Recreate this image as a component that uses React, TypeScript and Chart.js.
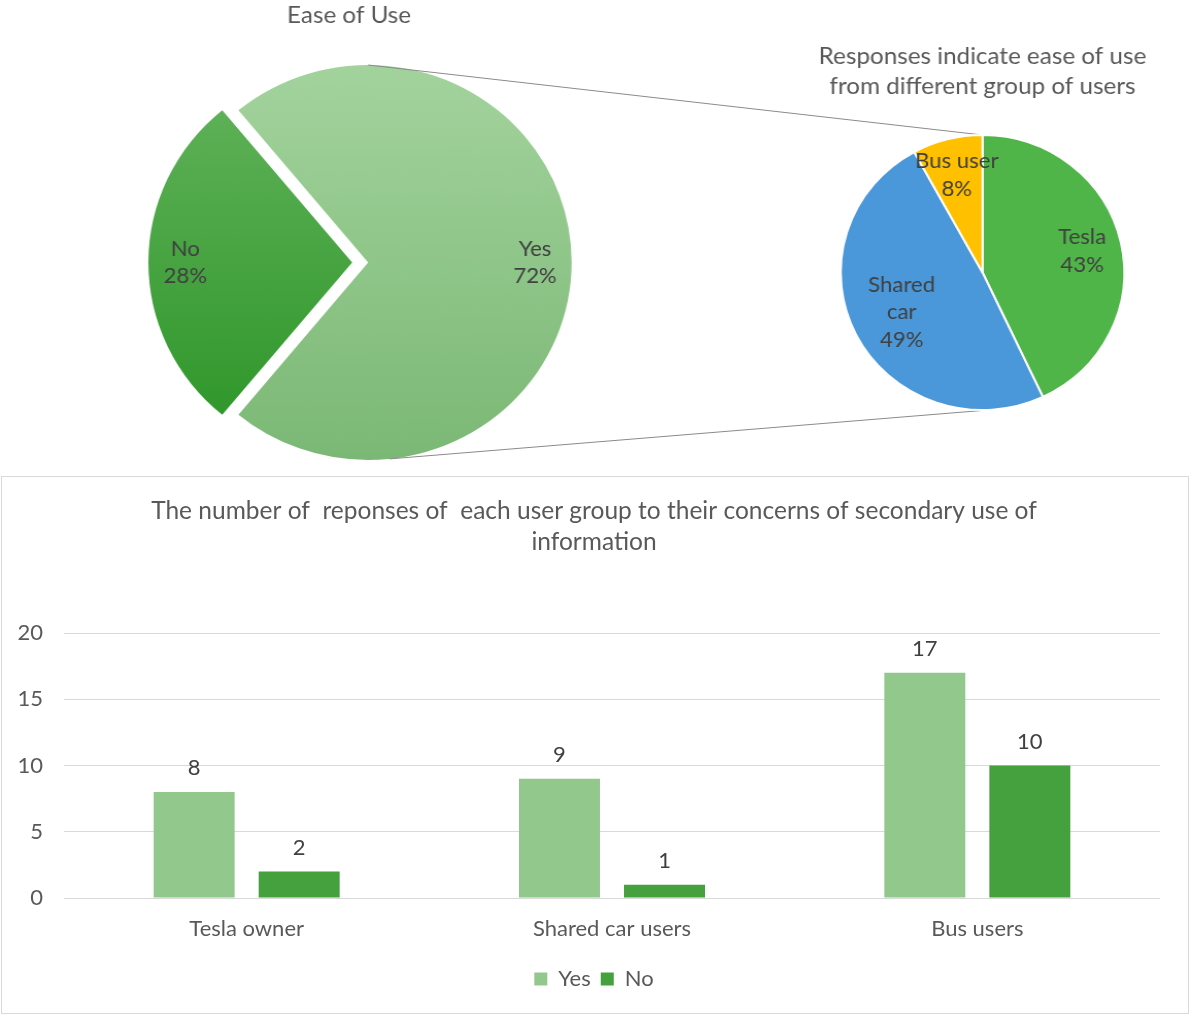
import React, { useEffect, useRef } from 'react';
import { Chart, registerables } from 'chart.js';

Chart.register(...registerables);

// ---------- data ----------
const easeLabels = ['Yes', 'No'];
const easeValues = [72, 28];

const groupLabels = ['Tesla', 'Shared car', 'Bus user'];
const groupValues = [43, 49, 8];
const groupLabelLines = [['Tesla'], ['Shared', 'car'], ['Bus user']];

const userGroups = ['Tesla owner', 'Shared car users', 'Bus users'];
const yesCounts = [8, 9, 17];
const noCounts = [2, 1, 10];
const yTicks = [0, 5, 10, 15, 20];

const easeTitle = 'Ease of Use';
const groupTitle = ['Responses indicate ease of use', 'from different group of users'];
const barTitle = [
  'The number of  reponses of  each user group to their concerns of secondary use of',
  'information',
];

// ---------- style ----------
const FONT = 'Lato, "Open Sans", sans-serif';
const TEXT = '#595959';
const LABEL = '#404040';

// top canvases are drawn slightly narrower and stretched horizontally by CSS
const A_CSS_W = 1189;
const A_W = 1154;
const A_H = 470;
const SA = A_CSS_W / A_W;

const B_LEFT = 790;
const B_TOP = 30;
const B_CSS_W = 399;
const B_W = 387;
const B_H = 440;
const SB = B_CSS_W / B_W;

const sliceLabelPlugin = {
  id: 'sliceLabels',
  afterDatasetsDraw(chart: any, _args: any, opts: any) {
    const meta = chart.getDatasetMeta(0);
    const ds = chart.data.datasets[0];
    const total = ds.data.reduce((a: number, b: number) => a + b, 0);
    const ctx = chart.ctx;
    ctx.save();
    ctx.font = `${opts.size}px ${FONT}`;
    ctx.fillStyle = opts.color;
    ctx.textAlign = 'center';
    ctx.textBaseline = 'middle';
    meta.data.forEach((el: any, i: number) => {
      const p = el.getProps(['x', 'y', 'startAngle', 'endAngle', 'outerRadius'], true);
      const mid = (p.startAngle + p.endAngle) / 2;
      const off = (el.options.offset || 0) / 4;
      const r = p.outerRadius * opts.frac[i] + off;
      const cx = p.x + Math.cos(mid) * r;
      const cy = p.y + Math.sin(mid) * r;
      const lines = [...opts.lines[i], Math.round((ds.data[i] / total) * 100) + '%'];
      lines.forEach((t: string, k: number) => {
        ctx.fillText(t, cx, cy + (k - (lines.length - 1) / 2) * opts.lineHeight);
      });
    });
    ctx.restore();
  },
};

const barValuePlugin = {
  id: 'barValues',
  afterDatasetsDraw(chart: any, _args: any, opts: any) {
    const ctx = chart.ctx;
    ctx.save();
    ctx.font = `${opts.size}px ${FONT}`;
    ctx.fillStyle = opts.color;
    ctx.textAlign = 'center';
    ctx.textBaseline = 'middle';
    chart.data.datasets.forEach((ds: any, di: number) => {
      const meta = chart.getDatasetMeta(di);
      meta.data.forEach((el: any, i: number) => {
        ctx.fillText(String(ds.data[i]), el.x, el.y - opts.gap);
      });
    });
    ctx.restore();
  },
};

export default function App() {
  const refA = useRef<HTMLCanvasElement>(null);
  const refB = useRef<HTMLCanvasElement>(null);
  const refC = useRef<HTMLCanvasElement>(null);

  useEffect(() => {
    const R_BIG = 197.5;
    const chartB = new Chart(refB.current as HTMLCanvasElement, {
      type: 'pie',
      data: {
        labels: groupLabels,
        datasets: [
          {
            data: groupValues,
            backgroundColor: ['#50B548', '#4A98DA', '#FFC000'],
            borderColor: '#ffffff',
            borderWidth: 2,
            radius: 137.5,
            clip: false,
          } as any,
        ],
      },
      options: {
        animation: false,
        responsive: false,
        rotation: 0,
        layout: { padding: { left: 0, right: 13.6, top: 0, bottom: 60 } },
        plugins: {
          legend: { display: false },
          tooltip: { enabled: false },
          title: {
            display: true,
            text: groupTitle,
            color: TEXT,
            font: { family: FONT, size: 23.5, weight: 'normal', lineHeight: 30 / 23.5 },
            padding: { top: 11, bottom: 34 },
          },
          sliceLabels: {
            size: 21.5,
            color: LABEL,
            lineHeight: 27.5,
            frac: [0.72, 0.64, 0.73],
            lines: groupLabelLines,
          },
        } as any,
      },
      plugins: [sliceLabelPlugin],
    });

    const connectorPlugin = {
      id: 'connectors',
      afterDatasetsDraw(chart: any) {
        const a = chart.getDatasetMeta(0).data[0];
        const b = chartB.getDatasetMeta(0).data[0] as any;
        if (!a || !b) return;
        const ctx = chart.ctx;
        ctx.save();
        ctx.strokeStyle = '#8a8a8a';
        ctx.lineWidth = 1;
        [-90, 84].forEach((deg) => {
          const t = (deg * Math.PI) / 180;
          const x1 = a.x + a.outerRadius * Math.cos(t);
          const y1 = a.y + a.outerRadius * Math.sin(t);
          const x2 = (B_LEFT + (b.x + b.outerRadius * Math.cos(t)) * SB) / SA;
          const y2 = B_TOP + b.y + b.outerRadius * Math.sin(t);
          ctx.beginPath();
          ctx.moveTo(x1, y1);
          ctx.lineTo(x2, y2);
          ctx.stroke();
        });
        ctx.restore();
      },
    };

    const stops = [
      ['#A3D39D', '#7BB875'],
      ['#64B45C', '#2A9426'],
    ];
    const chartA = new Chart(refA.current as HTMLCanvasElement, {
      type: 'pie',
      data: {
        labels: easeLabels,
        datasets: [
          {
            data: easeValues,
            backgroundColor: (c: any) => {
              const area = c.chart.chartArea;
              if (!area) return stops[c.dataIndex][0];
              const cy = (area.top + area.bottom) / 2;
              const g = c.chart.ctx.createLinearGradient(0, cy - R_BIG, 0, cy + R_BIG);
              g.addColorStop(0, stops[c.dataIndex][0]);
              g.addColorStop(1, stops[c.dataIndex][1]);
              return g;
            },
            borderWidth: 0,
            offset: [0, 62],
            radius: R_BIG,
            clip: false,
          } as any,
        ],
      },
      options: {
        animation: false,
        responsive: false,
        rotation: -39.6,
        layout: { padding: { left: 278.6, right: 718, top: 0, bottom: 10 } },
        plugins: {
          legend: { display: false },
          tooltip: { enabled: false },
          title: {
            display: true,
            text: easeTitle,
            align: 'start',
            color: TEXT,
            font: { family: FONT, size: 23.5, weight: 'normal', lineHeight: 1.2 },
            padding: { top: 1, bottom: 35.8 },
          },
          sliceLabels: {
            size: 21.5,
            color: LABEL,
            lineHeight: 27,
            frac: [0.82, 0.82],
            lines: easeLabels.map((l) => [l]),
          },
        } as any,
      },
      plugins: [connectorPlugin, sliceLabelPlugin],
    });

    const chartC = new Chart(refC.current as HTMLCanvasElement, {
      type: 'bar',
      data: {
        labels: userGroups,
        datasets: [
          {
            label: 'Yes',
            data: yesCounts,
            backgroundColor: '#93C88D',
            categoryPercentage: 0.575,
            barPercentage: 0.771,
          },
          {
            label: 'No',
            data: noCounts,
            backgroundColor: '#45A03E',
            categoryPercentage: 0.575,
            barPercentage: 0.771,
          },
        ],
      },
      options: {
        animation: false,
        responsive: false,
        layout: { padding: { left: 0, right: 2, top: 0, bottom: 13 } },
        scales: {
          x: {
            grid: { display: false, drawTicks: false },
            border: { display: false },
            ticks: { color: TEXT, font: { family: FONT, size: 22 }, padding: 17.8 },
            afterFit: (s: any) => {
              s.height = 60;
            },
          },
          y: {
            min: 0,
            max: 20,
            afterBuildTicks: (s: any) => {
              s.ticks = yTicks.map((v) => ({ value: v }));
            },
            afterFit: (s: any) => {
              s.width = 62;
            },
            ticks: { color: TEXT, font: { family: FONT, size: 22 }, padding: 21 },
            grid: { color: '#D9D9D9', drawTicks: false },
            border: { display: false },
          },
          // empty spacer on the right so the title and legend sit centred like the original
          spacer: {
            type: 'linear',
            position: 'right',
            display: true,
            grid: { display: false, drawTicks: false },
            border: { display: false },
            ticks: { display: false },
            afterFit: (s: any) => {
              s.width = 26;
            },
          },
        } as any,
        plugins: {
          title: {
            display: true,
            text: barTitle,
            color: TEXT,
            font: { family: FONT, size: 24.5, weight: 'normal', lineHeight: 31 / 24.5 },
            padding: { top: 18.5, bottom: 75.5 },
          },
          legend: {
            position: 'bottom',
            labels: {
              boxWidth: 13,
              boxHeight: 13,
              color: TEXT,
              font: { family: FONT, size: 22 },
              padding: 10,
            },
          },
          tooltip: { enabled: false },
          barValues: { size: 22, color: LABEL, gap: 24 },
        } as any,
      },
      plugins: [barValuePlugin],
    });

    return () => {
      chartA.destroy();
      chartB.destroy();
      chartC.destroy();
    };
  }, []);

  return (
    <div
      style={{
        position: 'absolute',
        left: 0,
        top: 0,
        width: 1189,
        height: 1014,
        background: '#ffffff',
        overflow: 'hidden',
      }}
    >
      <canvas
        ref={refA}
        width={A_W}
        height={A_H}
        style={{ position: 'absolute', left: 0, top: 0, width: A_CSS_W, height: A_H }}
      />
      <canvas
        ref={refB}
        width={B_W}
        height={B_H}
        style={{ position: 'absolute', left: B_LEFT, top: B_TOP, width: B_CSS_W, height: B_H }}
      />
      <div
        style={{
          position: 'absolute',
          left: 1,
          top: 476,
          width: 1188,
          height: 538,
          border: '1px solid #D9D9D9',
          boxSizing: 'border-box',
        }}
      >
        <canvas
          ref={refC}
          width={1186}
          height={536}
          style={{ display: 'block', width: 1186, height: 536 }}
        />
      </div>
    </div>
  );
}
